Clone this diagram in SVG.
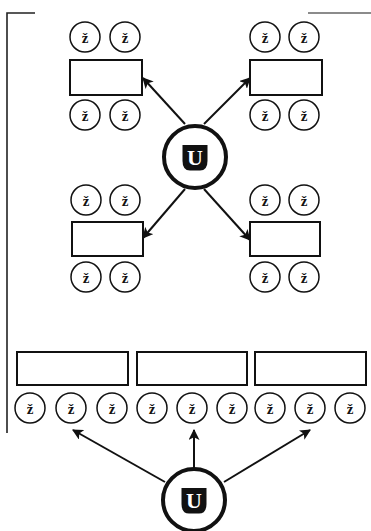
<svg xmlns="http://www.w3.org/2000/svg" width="371" height="531" viewBox="0 0 371 531">
  <defs>
    <style>
      .frame { stroke: #222; stroke-width: 1.6; fill: none; }
      .seat-ring { fill: #fff; stroke: #111; stroke-width: 1.5; }
      .seat-label { font-family: "Liberation Serif", "DejaVu Serif", serif; font-size: 15px; font-weight: bold; fill: #111; text-anchor: middle; }
      .table { fill: #fff; stroke: #111; stroke-width: 2; }
      .hub-ring { fill: #fff; stroke: #111; stroke-width: 4; }
      .hub-badge { fill: #111; }
      .hub-label { font-family: "Liberation Serif", "DejaVu Serif", serif; font-size: 22px; font-weight: bold; fill: #fff; text-anchor: middle; }
      .conn line { stroke: #111; stroke-width: 2; marker-end: url(#arrow); }
    </style>
    <marker id="arrow" viewBox="0 0 10 10" refX="9" refY="5" markerWidth="5.5" markerHeight="5.5" orient="auto" markerUnits="strokeWidth">
      <path d="M0,0 L10,5 L0,10 L2.5,5 Z" fill="#111"/>
    </marker>
    <g id="seat">
      <circle class="seat-ring" cx="0" cy="0" r="15"/>
      <text class="seat-label" x="0" y="5.5">ž</text>
    </g>
    <g id="hubMark">
      <circle class="hub-ring" cx="0" cy="0" r="31"/>
      <path class="hub-badge" d="M-12.5,-12 H12.5 V4 Q12.5,13.5 5,13.5 H-5 Q-12.5,13.5 -12.5,4 Z"/>
      <text class="hub-label" x="0" y="8">U</text>
    </g>
  </defs>

  <!-- partial frame -->
  <g id="frame">
    <path class="frame" d="M7,433 V13 H35"/>
    <path class="frame" d="M308,13 H371" stroke-opacity="0.7"/>
  </g>

  <!-- connectors -->
  <g id="connectors" class="conn">
    <line x1="185" y1="124" x2="143" y2="78"/>
    <line x1="204" y1="124" x2="250" y2="78"/>
    <line x1="185" y1="189" x2="143" y2="238"/>
    <line x1="204" y1="189" x2="250" y2="240"/>
    <line x1="165" y1="482" x2="73" y2="430"/>
    <line x1="194" y1="468" x2="194" y2="430"/>
    <line x1="224" y1="482" x2="310" y2="430"/>
  </g>

  <!-- four-seat tables -->
  <g id="table-tl">
    <use href="#seat" x="85" y="37"/><use href="#seat" x="125" y="37"/>
    <rect class="table" x="70" y="60" width="72" height="35"/>
    <use href="#seat" x="85" y="115"/><use href="#seat" x="125" y="115"/>
  </g>
  <g id="table-tr">
    <use href="#seat" x="265" y="37"/><use href="#seat" x="304" y="37"/>
    <rect class="table" x="250" y="60" width="72" height="35"/>
    <use href="#seat" x="265" y="115"/><use href="#seat" x="304" y="115"/>
  </g>
  <g id="table-bl">
    <use href="#seat" x="86" y="200"/><use href="#seat" x="125" y="200"/>
    <rect class="table" x="72" y="222" width="71" height="34"/>
    <use href="#seat" x="86" y="277"/><use href="#seat" x="125" y="277"/>
  </g>
  <g id="table-br">
    <use href="#seat" x="265" y="200"/><use href="#seat" x="304" y="200"/>
    <rect class="table" x="250" y="222" width="70" height="34"/>
    <use href="#seat" x="265" y="277"/><use href="#seat" x="304" y="277"/>
  </g>

  <!-- row of three tables -->
  <g id="row-tables">
    <rect class="table" x="17" y="352" width="111" height="33"/>
    <rect class="table" x="137" y="352" width="110" height="33"/>
    <rect class="table" x="255" y="352" width="111" height="33"/>
  </g>
  <g id="row-seats">
    <use href="#seat" x="30" y="408"/>
    <use href="#seat" x="71" y="408"/>
    <use href="#seat" x="112" y="408"/>
    <use href="#seat" x="152" y="408"/>
    <use href="#seat" x="192" y="408"/>
    <use href="#seat" x="232" y="408"/>
    <use href="#seat" x="270" y="408"/>
    <use href="#seat" x="310" y="408"/>
    <use href="#seat" x="350" y="408"/>
  </g>

  <!-- teacher hubs -->
  <g id="hub-top">
    <use href="#hubMark" x="195" y="157"/>
  </g>
  <g id="hub-bottom">
    <use href="#hubMark" x="194" y="500"/>
  </g>
</svg>
